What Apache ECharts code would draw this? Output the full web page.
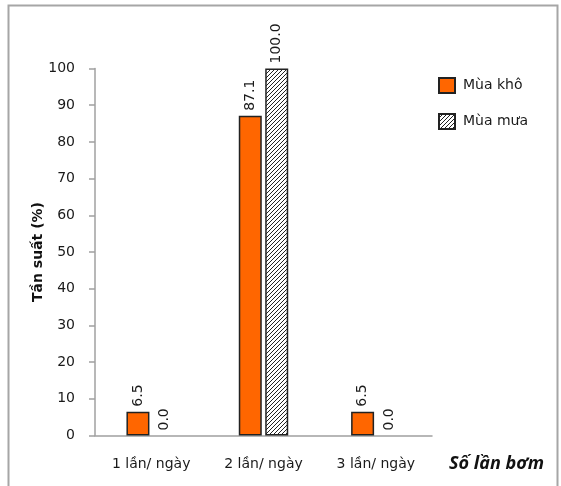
<!DOCTYPE html>
<html>
<head>
<meta charset="utf-8">
<script src="https://cdn.jsdelivr.net/npm/echarts@6/dist/echarts.min.js"></script>
<style>
  html, body { margin: 0; padding: 0; background: #fff; }
  #chart { width: 561px; height: 486px; }
</style>
</head>
<body>
<div id="chart"></div>
<script>
// Tần suất bơm theo mùa
const categories = ['1 lần/ ngày', '2 lần/ ngày', '3 lần/ ngày'];
const dryValues = [6.5, 87.1, 6.5];      // Mùa khô
const rainyValues = [0.0, 100.0, 0.0];   // Mùa mưa
const seriesNames = ['Mùa khô', 'Mùa mưa'];
const yTicks = { min: 0, max: 100, interval: 10 };

// diagonal hatch tile for the rainy-season bars
function hatchPattern() {
  const c = document.createElement('canvas');
  c.width = 4; c.height = 4;
  const ctx = c.getContext('2d');
  ctx.fillStyle = '#fff';
  ctx.fillRect(0, 0, 4, 4);
  ctx.strokeStyle = '#222';
  ctx.lineWidth = 1;
  for (const k of [-4, 0, 4]) {
    ctx.beginPath();
    ctx.moveTo(k, 4);
    ctx.lineTo(k + 4, 0);
    ctx.stroke();
  }
  return { image: c, repeat: 'repeat' };
}

// zero-height bars get no outline, only their value label
function barItems(values) {
  return values.map(v => v === 0 ? { value: v, itemStyle: { borderWidth: 0 } } : v);
}

const font = 'DejaVu Sans';
const labelCfg = {
  show: true,
  position: 'top',
  rotate: 90,
  align: 'left',
  verticalAlign: 'middle',
  distance: 5,
  fontFamily: font,
  fontSize: 14,
  color: '#1a1a1a',
  formatter: p => p.value.toFixed(1)
};

const chart = echarts.init(document.getElementById('chart'), null, { renderer: 'canvas' });
chart.setOption({
  animation: false,
  backgroundColor: '#fff',
  graphic: [{
    type: 'rect',
    shape: { x: 8.5, y: 5.5, width: 549, height: 500 },
    style: { fill: 'none', stroke: '#a6a6a6', lineWidth: 2 },
    silent: true
  }],
  grid: { left: 95, right: 129, top: 68.5, bottom: 50.5 },
  legend: {
    orient: 'vertical',
    left: 433,
    top: 72,
    icon: 'rect',
    itemWidth: 16,
    itemHeight: 15,
    itemGap: 19,
    data: seriesNames,
    textStyle: { fontFamily: font, fontSize: 14, color: '#1a1a1a', padding: [0, 0, 0, 3] }
  },
  xAxis: {
    type: 'category',
    data: categories,
    axisLine: { lineStyle: { color: '#a0a0a0', width: 1.5 } },
    axisTick: { show: false },
    axisLabel: { fontFamily: font, fontSize: 14, color: '#1a1a1a', margin: 22 },
    name: 'Số lần bơm',
    nameLocation: 'end',
    nameGap: 17,
    nameTextStyle: {
      fontFamily: 'Noto Sans', fontSize: 18, fontWeight: 'bold', fontStyle: 'italic',
      color: '#111', verticalAlign: 'top', padding: [19, 0, 0, 0]
    }
  },
  yAxis: {
    type: 'value',
    min: yTicks.min,
    max: yTicks.max,
    interval: yTicks.interval,
    splitLine: { show: false },
    axisLine: { show: true, lineStyle: { color: '#a0a0a0', width: 1.5 } },
    axisTick: { show: true, length: 6, lineStyle: { color: '#a0a0a0', width: 1.5 } },
    axisLabel: { fontFamily: font, fontSize: 14, color: '#1a1a1a', margin: 20 },
    name: 'Tần suất (%)',
    nameLocation: 'middle',
    nameRotate: 90,
    nameGap: 50,
    nameMoveOverlap: false,
    nameTextStyle: { fontFamily: font, fontSize: 14, fontWeight: 'bold', color: '#111' }
  },
  series: [
    {
      name: seriesNames[0],
      type: 'bar',
      data: barItems(dryValues),
      barWidth: 23,
      barGap: '15%',
      itemStyle: { color: '#ff6600', borderColor: '#222', borderWidth: 1.5 },
      label: labelCfg
    },
    {
      name: seriesNames[1],
      type: 'bar',
      data: barItems(rainyValues),
      barWidth: 23,
      barGap: '15%',
      itemStyle: { color: hatchPattern(), borderColor: '#222', borderWidth: 1.5 },
      label: labelCfg
    }
  ]
});
</script>
</body>
</html>
